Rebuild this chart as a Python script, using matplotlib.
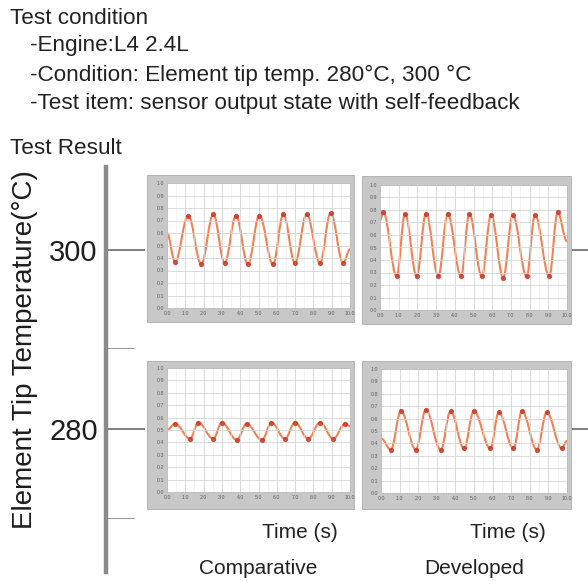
import matplotlib
matplotlib.use('Agg')
import matplotlib.pyplot as plt
from matplotlib.patches import Rectangle, PathPatch
from matplotlib.path import Path
from matplotlib.ticker import MultipleLocator

plt.rcParams['font.family'] = ['Liberation Sans', 'DejaVu Sans']

W, H = 588, 581

# element tip temperature scale
temp_major = [300, 280]
temp_minor = [289, 270]
temp_range = (264.0, 309.3)

header_title = 'Test condition'
header_items = [
    '-Engine:L4 2.4L',
    '-Condition: Element tip temp. 280\u00b0C, 300 \u00b0C',
    '-Test item: sensor output state with self-feedback',
]
columns = ['Comparative', 'Developed']

# sensor output traces (time in s, output normalised to full scale)
cmp300_t = [0.0, 0.44, 1.16, 1.87, 2.53, 3.15, 3.77, 4.42, 5.05, 5.79, 6.36, 6.99, 7.63, 8.36, 8.94, 9.63, 10.0]
cmp300_v = [0.60, 0.37, 0.74, 0.35, 0.75, 0.36, 0.74, 0.35, 0.74, 0.35, 0.75, 0.36, 0.75, 0.36, 0.76, 0.36, 0.47]

dev300_t = [0.0, 0.18, 0.89, 1.34, 1.96, 2.46, 3.12, 3.62, 4.33, 4.78, 5.44, 5.94, 6.59, 7.10, 7.84, 8.29, 9.05, 9.50, 10.0]
dev300_v = [0.72, 0.78, 0.27, 0.77, 0.27, 0.77, 0.27, 0.77, 0.27, 0.77, 0.27, 0.76, 0.26, 0.76, 0.27, 0.76, 0.27, 0.78, 0.55]

cmp280_t = [0.0, 0.44, 1.26, 1.71, 2.53, 3.00, 3.81, 4.35, 5.19, 5.71, 6.45, 6.99, 7.72, 8.36, 9.09, 9.73, 10.0]
cmp280_v = [0.50, 0.55, 0.43, 0.56, 0.43, 0.56, 0.42, 0.55, 0.42, 0.56, 0.43, 0.56, 0.43, 0.56, 0.43, 0.55, 0.53]

dev280_t = [0.0, 0.53, 1.07, 1.87, 2.41, 3.21, 3.74, 4.46, 4.99, 5.88, 6.33, 7.12, 7.58, 8.38, 8.91, 9.72, 10.0]
dev280_v = [0.44, 0.35, 0.66, 0.35, 0.67, 0.35, 0.66, 0.36, 0.66, 0.36, 0.65, 0.36, 0.66, 0.35, 0.65, 0.36, 0.42]

time_ticks = [0, 1, 2, 3, 4, 5, 6, 7, 8, 9, 10]
out_ticks = [0.0, 0.1, 0.2, 0.3, 0.4, 0.5, 0.6, 0.7, 0.8, 0.9, 1.0]


def box(x0, y0, x1, y1):
    # pixel box -> figure fraction [left, bottom, width, height]
    return [x0 / W, 1 - y1 / H, (x1 - x0) / W, (y1 - y0) / H]


def smooth_path(t, v):
    # cubic segments with flat tangents at every turning point
    verts = [(t[0], v[0])]
    codes = [Path.MOVETO]
    for i in range(1, len(t)):
        dt = t[i] - t[i - 1]
        verts += [(t[i - 1] + 0.38 * dt, v[i - 1]), (t[i] - 0.38 * dt, v[i]), (t[i], v[i])]
        codes += [Path.CURVE4] * 3
    return Path(verts, codes)


def draw_panel(fig, outer, inner, t, v):
    b = box(*outer)
    fig.add_artist(Rectangle(b[:2], b[2], b[3], transform=fig.transFigure,
                             facecolor='#c8c8c8', edgecolor='#adadad', lw=0.6, zorder=1))
    ax = fig.add_axes(box(*inner))
    ax.set_zorder(2)
    ax.set_facecolor('white')
    ax.set_xlim(0, 10)
    ax.set_ylim(0, 1)
    ax.set_xticks(time_ticks)
    ax.set_yticks(out_ticks)
    ax.set_xticklabels(['%d.0' % x for x in time_ticks])
    ax.set_yticklabels(['%.1f' % y for y in out_ticks])
    ax.xaxis.set_minor_locator(MultipleLocator(0.5))
    ax.grid(True, which='major', color='#d4d4d4', lw=0.6)
    ax.grid(True, which='minor', axis='x', color='#ececec', lw=0.4)
    ax.tick_params(which='both', length=0, labelsize=3.8, labelcolor='#5e5e5e', pad=2)
    for s in ax.spines.values():
        s.set_color('#bdbdbd')
        s.set_linewidth(0.6)
    ax.add_patch(PathPatch(smooth_path(t, v), facecolor='none', edgecolor='#ef7440',
                           lw=1.5, alpha=0.9))
    ax.plot(t[1:-1], v[1:-1], ls='none', marker='o', ms=2.8, color='#c43a2a', alpha=0.8)
    return ax


fig = plt.figure(figsize=(W / 100, H / 100), dpi=100)

# header text
fig.text(10 / W, 1 - 18 / H, header_title, fontsize=16.2, color='#222222',
         va='center', ha='left')
for i, line in enumerate(header_items):
    fig.text(30 / W, 1 - [46, 75, 104][i] / H, line, fontsize=16.2,
             color='#222222', va='center', ha='left')
fig.text(10 / W, 1 - 148 / H, 'Test Result', fontsize=16.2, color='#222222',
         va='center', ha='left')

# temperature axis
ax = fig.add_axes(box(106, 167, 588, 572))
ax.set_ylim(*temp_range)
ax.set_xlim(0, 1)
ax.set_xticks([])
ax.patch.set_visible(False)
for side in ['top', 'right', 'bottom']:
    ax.spines[side].set_visible(False)
ax.spines['left'].set_color('#8a8a8a')
ax.spines['left'].set_linewidth(3.2)
ax.set_yticks(temp_major)
ax.set_yticks(temp_minor, minor=True)
ax.set_yticklabels([str(v) for v in temp_major])
ax.tick_params(axis='y', which='major', direction='in', length=28, width=1.2,
               color='#6a6a6a', labelsize=21, labelcolor='#1e1e1e', pad=6)
ax.tick_params(axis='y', which='minor', direction='in', length=20, width=0.8,
               color='#9a9a9a')
for v in temp_major:
    ax.plot([0.965, 1.0], [v, v], color='#6a6a6a', lw=1.2,
            transform=ax.get_yaxis_transform(), clip_on=False)
fig.text(25 / W, 1 - 350 / H, 'Element Tip Temperature(\u00b0C)', fontsize=20,
         color='#1e1e1e', rotation=90, ha='center', va='center')

# result panels
draw_panel(fig, (147, 175, 354, 322), (167, 183, 350, 308), cmp300_t, cmp300_v)
draw_panel(fig, (362, 176, 571, 324), (380, 185, 567, 310), dev300_t, dev300_v)
draw_panel(fig, (147, 361, 354, 509), (167, 368, 350, 492), cmp280_t, cmp280_v)
draw_panel(fig, (362, 361, 571, 509), (381, 369, 567, 493), dev280_t, dev280_v)

# bottom captions
fig.text(300 / W, 1 - 532 / H, 'Time (s)', fontsize=15, color='#222222', ha='center', va='center')
fig.text(508 / W, 1 - 532 / H, 'Time (s)', fontsize=15, color='#222222', ha='center', va='center')
fig.text(258 / W, 1 - 569 / H, columns[0], fontsize=15, color='#222222', ha='center', va='center')
fig.text(474 / W, 1 - 569 / H, columns[1], fontsize=15, color='#222222', ha='center', va='center')

plt.savefig('out.png', dpi=100)
